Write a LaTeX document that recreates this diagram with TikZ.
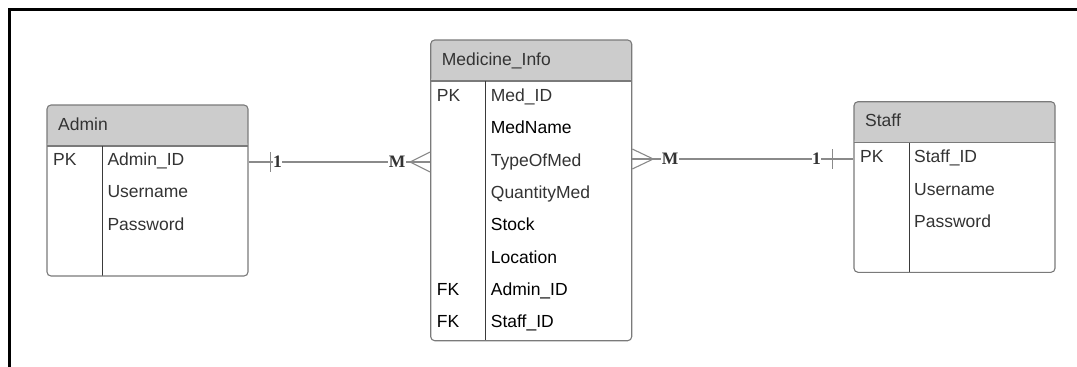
\documentclass[tikz,border=0pt]{standalone}
\usepackage{fontspec}
\setmainfont{Liberation Sans}
\newfontfamily\cardfont{Liberation Serif}
\usetikzlibrary{calc}
\definecolor{boxline}{HTML}{7A7A7A}
\definecolor{headfill}{HTML}{CCCCCC}
\definecolor{divline}{HTML}{3A3A3A}
\definecolor{txt}{HTML}{333333}
\definecolor{connline}{HTML}{8A8A8A}
\begin{document}
\begin{tikzpicture}[x=1pt,y=-1pt,
  entity/.style={draw=boxline, line width=1.1pt, rounded corners=4pt,
    minimum width=201pt, inner sep=0pt,
    path picture={
      \fill[headfill] (path picture bounding box.north west) rectangle
        ([yshift=-41pt]path picture bounding box.north east);
      \draw[boxline, line width=1.1pt] ([yshift=-41pt]path picture bounding box.north west) --
        ([yshift=-41pt]path picture bounding box.north east);
      \draw[divline, line width=1pt] ([xshift=55pt,yshift=-41pt]path picture bounding box.north west) --
        ([xshift=55pt]path picture bounding box.south west);
    }},
  field/.style={anchor=base west, inner sep=0pt, font=\fontsize{17.5}{21}\selectfont, text=txt},
  darkfield/.style={field, text=black},
  conn/.style={draw=connline, line width=1.1pt},
  card/.style={fill=white, inner sep=0.5pt, text=txt, font=\cardfont\bfseries\fontsize{17.5}{20}\selectfont}
]
\useasboundingbox (0,0) rectangle (1077,367);

% frame along the top and left edges
\draw[line width=3pt] (9.5,367) -- (9.5,9.5) -- (1077,9.5);

% entity boxes
\node[entity, minimum height=171pt] (admin) at (147.5,190.5) {};
\node[entity, minimum height=300.7pt] (med) at (531.2,190.35) {};
\node[entity, minimum height=170.6pt] (staff) at (954.5,187) {};

% Admin
\node[field] (adminH) at (58,130) {Admin};
\node[field] (adminPK) at (53,165.5) {PK};
\node[field] (adminA1) at (107.3,165.5) {Admin\_ID};
\node[field] (adminA2) at (107.3,197.8) {Username};
\node[field] (adminA3) at (107.3,230.1) {Password};

% Medicine_Info
\node[field] (medH) at (441.7,65) {Medicine\_Info};
\node[field] (medPK) at (436.7,101.5) {PK};
\node[field] (medA1) at (490.7,101.5) {Med\_ID};
\node[darkfield] (medA2) at (490.7,133.8) {MedName};
\node[field] (medA3) at (490.7,166.1) {TypeOfMed};
\node[field] (medA4) at (490.7,198.4) {QuantityMed};
\node[darkfield] (medA5) at (490.7,230.7) {Stock};
\node[darkfield] (medA6) at (490.7,263) {Location};
\node[darkfield] (medFK1) at (436.7,295.3) {FK};
\node[darkfield] (medA7) at (490.7,295.3) {Admin\_ID};
\node[darkfield] (medFK2) at (436.7,327.6) {FK};
\node[darkfield] (medA8) at (490.7,327.6) {Staff\_ID};

% Staff
\node[field] (staffH) at (865,126.5) {Staff};
\node[field] (staffPK) at (860,162.7) {PK};
\node[field] (staffA1) at (914,162.7) {Staff\_ID};
\node[field] (staffA2) at (914,195) {Username};
\node[field] (staffA3) at (914,227.3) {Password};

% Admin (1) -- (M) Medicine_Info
\coordinate (ya) at (0,162);
\draw[conn] (admin.east |- ya) -- (med.west |- ya);
\draw[conn] ($(admin.east |- ya)+(22,-10)$) -- ($(admin.east |- ya)+(22,10)$);
\draw[conn] ($(med.west |- ya)+(0,-10)$) -- ($(med.west |- ya)+(-20,0)$) -- ($(med.west |- ya)+(0,10)$);
\node[card] (cardA1) at ($(admin.east |- ya)+(29,0)$) {1};
\node[card] (cardAM) at ($(med.west |- ya)+(-33,0)$) {M};

% Medicine_Info (M) -- (1) Staff
\coordinate (yb) at (0,159);
\draw[conn] (med.east |- yb) -- (staff.west |- yb);
\draw[conn] ($(med.east |- yb)+(0,-10)$) -- ($(med.east |- yb)+(21,0)$) -- ($(med.east |- yb)+(0,10)$);
\draw[conn] ($(staff.west |- yb)+(-21,-10)$) -- ($(staff.west |- yb)+(-21,10)$);
\node[card] (cardSM) at ($(med.east |- yb)+(38,0)$) {M};
\node[card] (cardS1) at ($(staff.west |- yb)+(-37,0)$) {1};
\end{tikzpicture}
\end{document}
